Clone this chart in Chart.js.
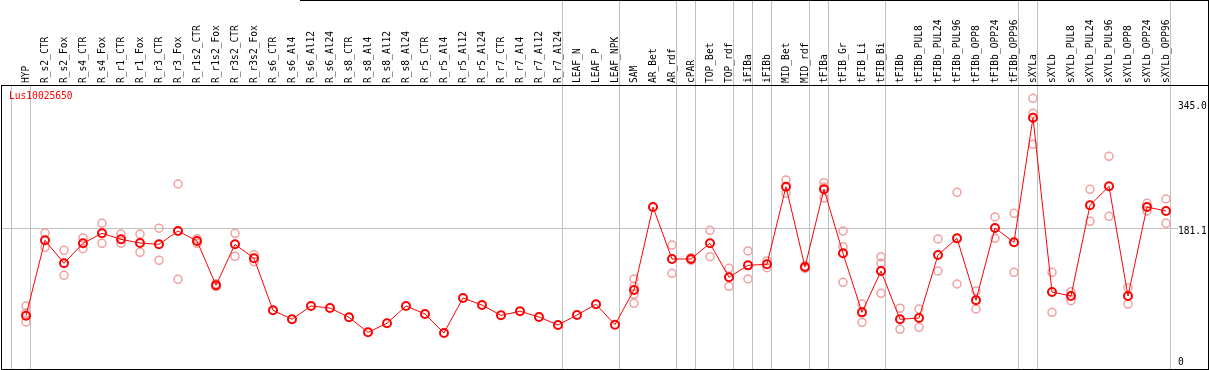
<!DOCTYPE html>
<html>
<head>
<meta charset="utf-8">
<script src="https://cdn.jsdelivr.net/npm/chart.js@4"></script>
<style>
  body { margin: 0; background: #fff; }
  #wrap { position: relative; width: 1209px; height: 370px; overflow: hidden; }
  #wrap canvas { position: absolute; left: 0; top: 0; }
  .frame { position: absolute; box-sizing: border-box; pointer-events: none; }
  #plotFrame { left: 1px; top: 85px; width: 1208px; height: 285px; border: 1px solid #000; }
  #headFrame { left: 300px; top: 0; width: 909px; height: 86px; border-top: 1px solid #000; border-right: 1px solid #000; }
  #geneName { position: absolute; left: 9px; top: 90px; color: #f00; font: 9.6px "DejaVu Sans Mono", monospace; }
</style>
</head>
<body>
<div id="wrap">
  <canvas id="chartExpr" width="1209" height="370"></canvas>
  <div class="frame" id="plotFrame"></div>
  <div class="frame" id="headFrame"></div>
  <div id="geneName">Lus10025650</div>
</div>
<script>
// samples, left to right
const categories = [
    'HYP', 'R_s2_CTR', 'R_s2_Fox', 'R_s4_CTR', 'R_s4_Fox', 'R_r1_CTR', 'R_r1_Fox', 'R_r3_CTR', 'R_r3_Fox',
    'R_r1s2_CTR', 'R_r1s2_Fox', 'R_r3s2_CTR', 'R_r3s2_Fox', 'R_s6_CTR', 'R_s6_Al4', 'R_s6_Al12', 'R_s6_Al24',
    'R_s8_CTR', 'R_s8_Al4', 'R_s8_Al12', 'R_s8_Al24', 'R_r5_CTR', 'R_r5_Al4', 'R_r5_Al12', 'R_r5_Al24',
    'R_r7_CTR', 'R_r7_Al4', 'R_r7_Al12', 'R_r7_Al24', 'LEAF_N', 'LEAF_P', 'LEAF_NPK', 'SAM', 'AR_Bet', 'AR_rdf',
    'cPAR', 'TOP_Bet', 'TOP_rdf', 'iFIBa', 'iFIBb', 'MID_Bet', 'MID_rdf', 'tFIBa', 'tFIB_Gr', 'tFIB_Li', 'tFIB_Bi',
    'tFIBb', 'tFIBb_PUL8', 'tFIBb_PUL24', 'tFIBb_PUL96', 'tFIBb_OPP8', 'tFIBb_OPP24', 'tFIBb_OPP96',
    'sXYLa', 'sXYLb', 'sXYLb_PUL8', 'sXYLb_PUL24', 'sXYLb_PUL96', 'sXYLb_OPP8', 'sXYLb_OPP24', 'sXYLb_OPP96'
];

// mean expression
const meanValues = [
    66.6, 165.3, 135.2, 161.3, 174.4, 166.6, 161.7, 160.0, 177.4,
    164.4, 106.4, 160.0, 141.7, 73.7, 61.9, 79.3, 76.7,
    64.5, 44.9, 56.7, 79.3, 68.9, 44.0, 89.8, 80.6,
    67.1, 72.4, 64.9, 54.5, 67.6, 81.5, 54.9, 100.3, 208.8, 140.8,
    140.8, 161.3, 116.9, 132.5, 133.9, 235.4, 130.3, 232.0, 148.2, 71.0, 125.1,
    61.9, 63.6, 146.0, 167.8, 86.8, 181.4, 162.6,
    325.6, 97.6, 92.4, 211.0, 235.9, 92.4, 208.8, 203.6
];

// replicate values (null = none shown)
const repHigh = [
    79.2, 174.8, 152.2, 168.3, 187.5, 173.5, 173.5, 181.0, 238.9,
    167.4, 108.5, 174.4, 146.5, null, null, null, null,
    null, null, null, null, null, null, null, null,
    null, null, null, null, null, null, null, 114.7, null, 159.0,
    142.5, 178.3, 128.6, 151.3, 138.2, 244.1, 132.0, 240.6, 177.4, 81.9, 143.8,
    76.3, 75.4, 167.0, 228.0, 98.9, 195.8, 200.6,
    351.0, 123.4, 98.0, 232.0, 275.1, 103.3, 213.7, 219.3
];
const repLow = [
    58.4, 156.1, 119.5, 154.3, 161.3, 161.3, 149.6, 139.1, 114.2,
    161.3, 104.5, 144.3, 137.3, null, null, null, null,
    null, null, null, null, null, null, null, null,
    null, null, null, null, null, null, null, 82.8, null, 122.1,
    139.0, 143.8, 105.1, 114.7, 129.5, 226.7, 128.5, 220.6, 110.3, 58.0, 95.9,
    48.8, 51.4, 125.1, 108.1, 75.4, 167.8, 123.4,
    290.8, 71.1, 86.3, 190.1, 196.6, 81.9, 203.6, 187.5
];
const repExtra = [
    70.0, null, null, null, null, null, null, null, null,
    null, null, null, null, null, null, null, null,
    null, null, null, null, null, null, null, null,
    null, null, null, null, null, null, null, 105.1, null, null,
    null, null, null, null, null, null, null, 235.0, 156.9, null, 135.2,
    null, null, null, null, null, null, null,
    331.4, null, null, null, null, null, null, null
];
const repExtra2 = categories.map(c => (c === 'SAM' ? 94.6 : null));

// last sample of each group (-1 = line before the first one)
const groupEnds = [-1, 0, 28, 31, 34, 35, 37, 38, 39, 41, 42, 45, 52, 53, 60];

const yTicks = [0, 181.1, 345];
const yTickLabels = ['0', '181.1', '345.0'];

const monoFont = { family: 'DejaVu Sans Mono', size: 9.6 };
const gridGrey = '#c0c0c0';

function toPoints(values) {
    return values.map((v, i) => ({ x: i, y: v })).filter(p => p.y !== null);
}

function isBreak(v) {
    return !Number.isInteger(v);
}

function repDataset(values) {
    return {
        type: 'line',
        data: toPoints(values),
        showLine: false,
        pointRadius: 4,
        pointBorderWidth: 1.5,
        pointBorderColor: '#f0a0a0',
        pointBackgroundColor: 'transparent',
        order: 2
    };
}

// nudge the value labels the way the original draws them
const yLabelNudge = {
    id: 'yLabelNudge',
    beforeDraw(chart) {
        const items = chart.scales.y.getLabelItems();
        items.forEach(item => {
            const t = item.options.translation;
            if (item.label === '0') t[1] -= 4.5;
            else t[1] += 3.8;
        });
    }
};

const ctx = document.getElementById('chartExpr').getContext('2d');
const exprChart = new Chart(ctx, {
    type: 'line',
    data: {
        datasets: [
            {
                data: toPoints(meanValues),
                borderColor: '#ff0000',
                borderWidth: 1,
                tension: 0,
                pointRadius: 4,
                pointBorderWidth: 2,
                pointBorderColor: '#ff0000',
                pointBackgroundColor: 'transparent',
                order: 1
            },
            repDataset(repHigh),
            repDataset(repLow),
            repDataset(repExtra),
            repDataset(repExtra2)
        ]
    },
    options: {
        responsive: false,
        animation: false,
        devicePixelRatio: 1,
        layout: { autoPadding: false, padding: { left: 2, right: 0, top: 0, bottom: 1 } },
        plugins: { legend: { display: false }, tooltip: { enabled: false } },
        scales: {
            x: {
                type: 'linear',
                position: 'top',
                min: -1.263,
                max: 60.632,
                afterBuildTicks: s => {
                    const vals = categories.map((c, i) => i).concat(groupEnds.map(g => g + 0.25));
                    s.ticks = vals.sort((a, b) => a - b).map(v => ({ value: v }));
                },
                afterFit: s => { s.height = 86; s.paddingLeft = 0; s.paddingRight = 0; },
                ticks: {
                    autoSkip: false,
                    minRotation: 90,
                    maxRotation: 90,
                    padding: -83,
                    labelOffset: 12,
                    color: '#000',
                    font: monoFont,
                    callback: v => (Number.isInteger(v) ? categories[v] : '')
                },
                grid: {
                    tickLength: 86,
                    lineWidth: 1,
                    color: c => (c.tick && isBreak(c.tick.value) ? gridGrey : 'transparent'),
                    tickColor: c => (c.tick && isBreak(c.tick.value) && c.tick.value > 0.5 ? gridGrey : 'transparent')
                },
                border: { display: false }
            },
            y: {
                type: 'linear',
                position: 'right',
                min: -3.1,
                max: 367.1,
                afterBuildTicks: s => { s.ticks = yTicks.map(v => ({ value: v })); },
                afterFit: s => { s.width = 31; s.paddingTop = 0; s.paddingBottom = 0; },
                ticks: {
                    padding: 0,
                    color: '#000',
                    font: monoFont,
                    callback: (v, i) => yTickLabels[i]
                },
                grid: {
                    drawTicks: false,
                    color: c => (c.tick && c.tick.value === 181.1 ? gridGrey : 'transparent')
                },
                border: { display: false }
            }
        }
    },
    plugins: [yLabelNudge]
});
</script>
</body>
</html>
